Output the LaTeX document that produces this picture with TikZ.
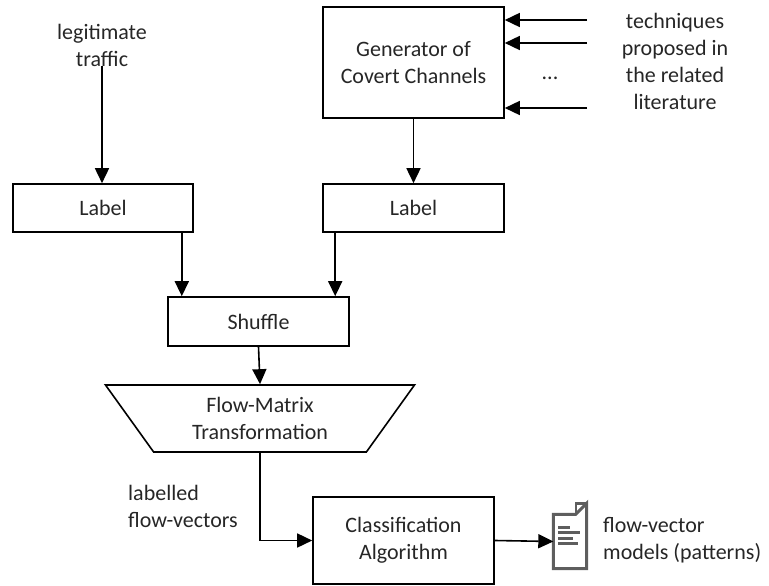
\documentclass[tikz,border=0pt]{standalone}
\usepackage{fontspec}
\setmainfont{Carlito}
\usetikzlibrary{arrows.meta,shapes.geometric}
\definecolor{icongray}{HTML}{5E5E5E}
\begin{document}
\begin{tikzpicture}[x=1pt,y=-1pt,
  every node/.style={font=\fontsize{22}{27}\selectfont, text=black!85},
  box/.style={draw, line width=1.6pt, inner sep=0pt, align=center},
  arr/.style={-{Triangle[length=15pt,width=14pt]}, line width=1.6pt},
  txt/.style={inner sep=0pt}]
\useasboundingbox (0,0) rectangle (769,586);

\node[txt, align=center] (legit) at (102,45) {legitimate\\traffic};
\node[box, minimum width=181pt, minimum height=111pt] (gen) at (413.5,62.5) {Generator of\\Covert Channels};
\node[txt, align=center] (tech) at (675,61.5) {techniques\\proposed in\\the related\\literature};
\node[txt] (dots) at (550,78) {...};
\coordinate (in1) at (587,20);
\coordinate (in2) at (587,43);
\coordinate (in3) at (587,108);

\node[box, minimum width=180pt, minimum height=48pt] (lab1) at (103,208) {Label};
\node[box, minimum width=181pt, minimum height=48pt] (lab2) at (413.5,208) {Label};
\node[box, minimum width=181pt, minimum height=49pt] (shuf) at (258.5,321.5) {Shuffle};
\node[draw, line width=1.6pt, trapezium, shape border rotate=180, trapezium angle=41.4,
      trapezium stretches body, minimum width=309pt, minimum height=67pt, inner sep=0pt, align=center] (fm) at (260,418.5) {Flow-Matrix\\Transformation};
\node[box, minimum width=181pt, minimum height=87pt] (cls) at (403.5,540.5) {Classification\\Algorithm};
\node[txt, anchor=west, align=left] (lfv) at (128,506) {labelled\\flow-vectors};
\node[inner sep=0pt, minimum width=33pt, minimum height=54pt] (doc) at (570,541.5) {};
\node[txt, anchor=west, align=left] (fvm) at (603,540) {flow-vector\\models (patterns)};

% document icon
\draw[line width=3pt, draw=icongray, line join=miter]
  (doc.north west) -- ([xshift=-11pt]doc.north east) -- ([yshift=11pt]doc.north east) -- (doc.south east) -- (doc.south west) -- cycle;
\draw[line width=2.4pt, draw=icongray, line join=miter] ([xshift=-11pt]doc.north east) -- ([xshift=-11pt,yshift=11pt]doc.north east) -- ([yshift=11pt]doc.north east);
\foreach \yy/\xx in {-1.5/20, 3.5/15, 9/22, 14/12} {
  \draw[line width=3pt, draw=icongray] ([xshift=5pt,yshift=\yy pt]doc.west) -- ++(\xx,0);
}

% connectors
\draw[arr] (legit.south) -- (legit.south |- lab1.north);
\draw[arr] (in1) -- (in1 -| gen.east);
\draw[arr] (in2) -- (in2 -| gen.east);
\draw[arr] (in3) -- (in3 -| gen.east);
\draw[arr] (gen.south) -- (lab2.north);
\draw[arr] ([xshift=-12pt]lab1.south east) -- ([xshift=-12pt]lab1.south east |- shuf.north);
\draw[arr] ([xshift=13pt]lab2.south west) -- ([xshift=13pt]lab2.south west |- shuf.north);
\draw[arr] (shuf.south) -- (fm.north);
\draw[arr] (fm.south) |- (cls.west);
\draw[arr] (cls.east) -- (doc.west);
\end{tikzpicture}
\end{document}
